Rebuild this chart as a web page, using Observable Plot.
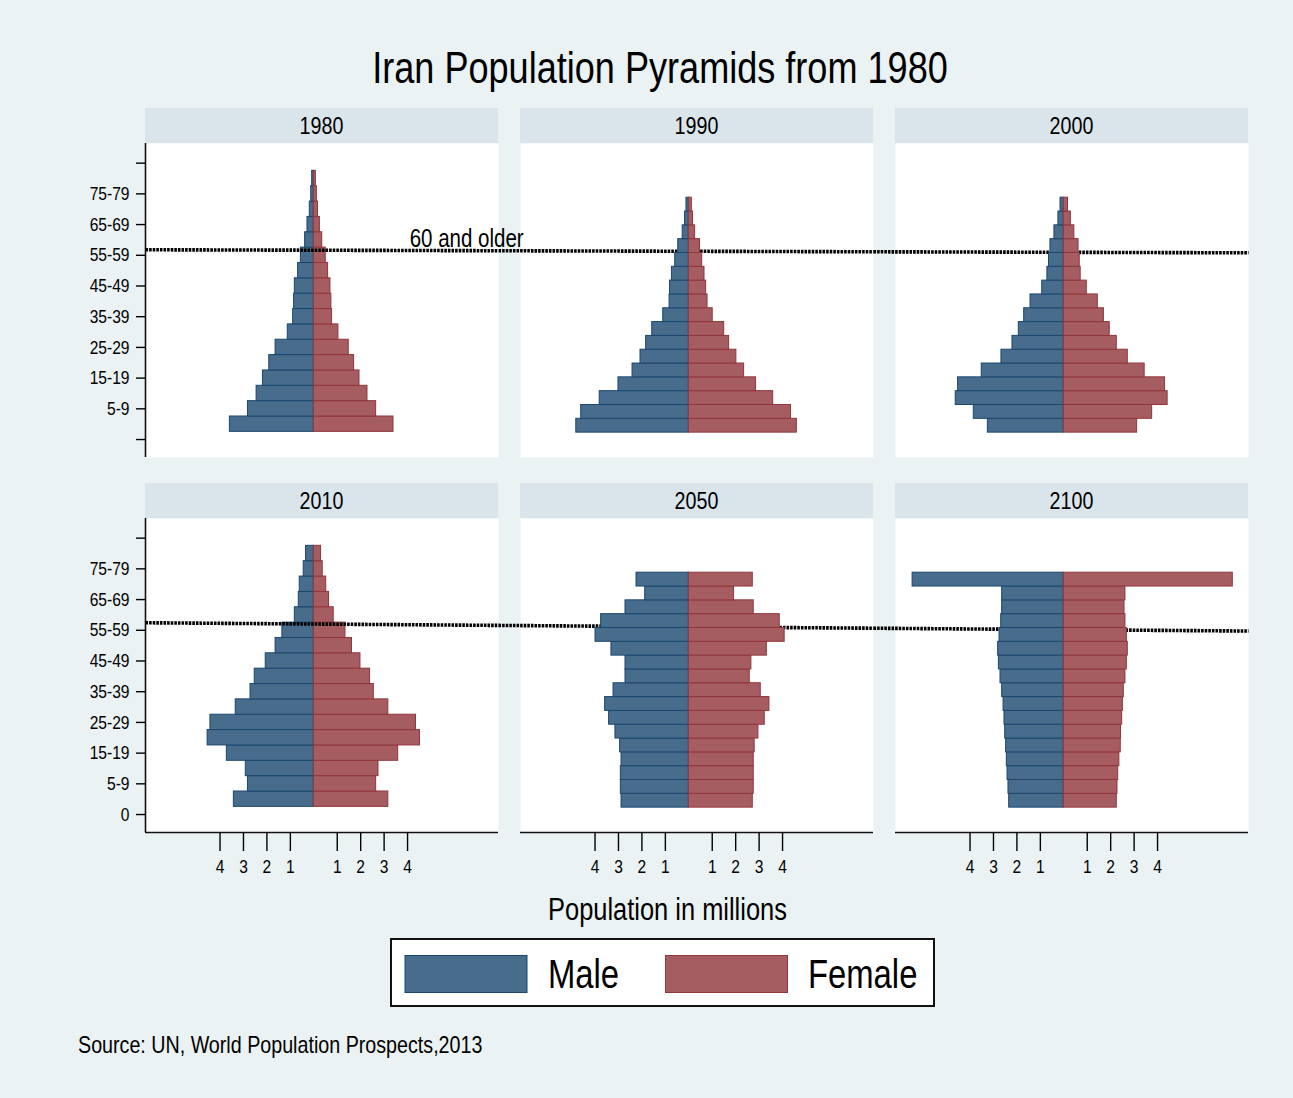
<!DOCTYPE html>
<html><head><meta charset="utf-8">
<script src="https://cdn.jsdelivr.net/npm/d3@7"></script>
<script src="https://cdn.jsdelivr.net/npm/@observablehq/plot@0.6"></script>
<style>
html,body{margin:0;padding:0;background:#eaf2f3;}
#fig{position:relative;width:1293px;height:1098px;background:#eaf2f3;overflow:hidden;
 font-family:"Liberation Sans",Arial,sans-serif;color:#000;}
</style></head><body><div id="fig"></div>
<script>
// ---- data ----
const years = [1980, 1990, 2000, 2010, 2050, 2100];
const ageGroups = ["0-4","5-9","10-14","15-19","20-24","25-29","30-34","35-39","40-44","45-49",
  "50-54","55-59","60-64","65-69","70-74","75-79","80+"];
// millions, ordered from 0-4 up to 80+
const male1980   = [3.58,2.81,2.44,2.17,1.90,1.63,1.11,0.88,0.84,0.81,0.67,0.55,0.37,0.27,0.17,0.11,0.07];
const female1980 = [3.40,2.66,2.29,1.95,1.72,1.49,1.05,0.78,0.75,0.71,0.61,0.51,0.36,0.26,0.18,0.13,0.09];
const male1990   = [4.80,4.59,3.80,3.00,2.40,2.06,1.82,1.56,1.09,0.82,0.80,0.72,0.58,0.45,0.26,0.16,0.10];
const female1990 = [4.61,4.36,3.60,2.87,2.36,2.03,1.72,1.51,1.02,0.80,0.74,0.67,0.57,0.48,0.27,0.18,0.13];
const male2000   = [3.24,3.84,4.61,4.51,3.50,2.66,2.19,1.92,1.69,1.42,0.92,0.70,0.63,0.57,0.40,0.23,0.14];
const female2000 = [3.13,3.77,4.43,4.32,3.45,2.73,2.26,1.96,1.71,1.45,0.98,0.72,0.68,0.63,0.45,0.30,0.18];
const male2010   = [3.41,2.81,2.90,3.71,4.53,4.41,3.33,2.70,2.52,2.05,1.63,1.34,0.81,0.64,0.60,0.43,0.33];
const female2010 = [3.18,2.66,2.76,3.60,4.53,4.36,3.18,2.56,2.40,1.99,1.63,1.35,0.85,0.65,0.53,0.38,0.31];
const male2050   = [2.87,2.90,2.90,2.87,2.93,3.13,3.40,3.57,3.21,2.70,2.70,3.30,3.98,3.74,2.70,1.86,2.23];
const female2050 = [2.73,2.77,2.77,2.77,2.81,2.97,3.24,3.44,3.07,2.60,2.67,3.33,4.09,3.88,2.77,1.93,2.73];
const male2100   = [2.33,2.36,2.40,2.43,2.46,2.50,2.53,2.57,2.63,2.70,2.77,2.80,2.74,2.67,2.63,2.63,6.45];
const female2100 = [2.26,2.29,2.32,2.37,2.43,2.44,2.49,2.52,2.56,2.63,2.69,2.73,2.69,2.63,2.59,2.63,7.21];
const maleData = [male1980, male1990, male2000, male2010, male2050, male2100];
const femaleData = [female1980, female1990, female2000, female2010, female2050, female2100];
const yTickValues = [0,2,4,6,8,10,12,14,16,18];
const yTickLabels = ["0","5-9","15-19","25-29","35-39","45-49","55-59","65-69","75-79",""];
const xTickValues = [-4,-3,-2,-1,1,2,3,4];
const seriesNames = ["Male","Female"];

// ---- styles / layout ----
const maleFill = "#486c8c", maleStroke = "#1a476f";
const femaleFill = "#a65d62", femaleStroke = "#90353b";
const FONT = '"Liberation Sans",Arial,sans-serif';
const NARROW = 0.82; // horizontal compression to mimic a narrow face
const frameW = 353, frameH = 314, gap = 22;
const colLeft = [145, 520, 895];
const rowTop = [143, 518];
const xDomain = [-7.18, 7.88];
const yDomainBase = [-1.17, 19.28];
const bandScale = [1, 0.9, 0.9, 1, 0.9, 0.9];
const cutLineTop = [12.36, 12.16], cutLineBottom = [12.49, 11.95];
const X0 = 145, X1 = 1248;
const pxPerM = frameW / (xDomain[1] - xDomain[0]);

const fig = document.getElementById("fig");

// background: texts, strips, legend
const bg = d3.select(fig).append("svg").attr("width",1293).attr("height",1098)
  .style("position","absolute").style("left",0).style("top",0).style("font-family",FONT);
bg.append("text").attr("x",660).attr("y",83).attr("text-anchor","middle").attr("font-size",44)
  .text("Iran Population Pyramids from 1980");
bg.append("text").attr("x",667.5).attr("y",920).attr("text-anchor","middle").attr("font-size",31)
  .text("Population in millions");
bg.append("text").attr("x",78).attr("y",1053).attr("font-size",24)
  .text("Source: UN, World Population Prospects,2013");
years.forEach((yr, i) => {
  const r = Math.floor(i / 3), c = i % 3;
  bg.append("rect").attr("x", colLeft[c]).attr("y", rowTop[r] - 35).attr("width", frameW).attr("height", 35)
    .attr("fill", "#d9e5eb");
  bg.append("text").attr("x", colLeft[c] + frameW / 2).attr("y", rowTop[r] - 35 + 26)
    .attr("text-anchor", "middle").attr("font-size", 24).text(yr);
});
const lg = bg.append("g");
lg.append("rect").attr("x",391).attr("y",939).attr("width",543).attr("height",67)
  .attr("fill","#fff").attr("stroke","#111").attr("stroke-width",2);
[[maleFill, maleStroke, 405, 548], [femaleFill, femaleStroke, 665.5, 808]].forEach(([fl, st, sx, tx], j) => {
  lg.append("rect").attr("x", sx).attr("y", 955.5).attr("width", 122).attr("height", 37)
    .attr("fill", fl).attr("stroke", st).attr("stroke-width", 1);
  lg.append("text").attr("x", tx).attr("y", 988).attr("font-size", 40).text(seriesNames[j]);
});

years.forEach((yr, i) => {
  const r = Math.floor(i / 3), c = i % 3;
  const f = bandScale[i];
  const ydom = [yDomainBase[0] / f, yDomainBase[1] / f];
  const rows = ageGroups.map((g, k) => ({age: g, k: k + 1, male: maleData[i][k], female: femaleData[i][k]}));
  const mL = c === 0 ? 85 : gap;
  const mB = r === 1 ? 50 : 0;
  const leftPx = c === 0 ? X0 : colLeft[c] - gap;
  const rightPx = colLeft[c] + frameW;
  const cut = r === 0 ? cutLineTop : cutLineBottom;
  const lerp = px => cut[0] + (cut[1] - cut[0]) * (px - X0) / (X1 - X0);
  const linePts = [
    {x: xDomain[0] - (colLeft[c] - leftPx) / pxPerM, y: lerp(leftPx) / f},
    {x: xDomain[1], y: lerp(rightPx) / f}
  ];
  const cutMark = Plot.line(linePts, {x: "x", y: "y", stroke: "#000", strokeWidth: 3.6,
    strokeDasharray: "2.6,1", strokeLinecap: "butt", strokeOpacity: 1});
  const marks = [Plot.frame({fill: "white", stroke: "none"})];
  if (c > 0) marks.push(cutMark);
  marks.push(Plot.rect(rows, {x1: d => -d.male, x2: () => 0, y1: d => d.k - 0.5, y2: d => d.k + 0.5,
    fill: maleFill, stroke: maleStroke, strokeWidth: 1}));
  marks.push(Plot.rect(rows, {x1: () => 0, x2: d => d.female, y1: d => d.k - 0.5, y2: d => d.k + 0.5,
    fill: femaleFill, stroke: femaleStroke, strokeWidth: 1}));
  if (c === 0) {
    marks.push(cutMark);
    marks.push(Plot.ruleX([xDomain[0]], {stroke: "#111", strokeWidth: 1.6}));
    marks.push(Plot.axisY({ticks: yTickValues, anchor: "left", label: null, tickSize: 9, tickPadding: 7,
      strokeWidth: 1.4, fontSize: 19,
      tickFormat: d => (r === 0 && d === 0) ? "" : yTickLabels[yTickValues.indexOf(d)]}));
  }
  if (r === 1) {
    marks.push(Plot.ruleY([ydom[0]], {stroke: "#111", strokeWidth: 1.6}));
    marks.push(Plot.axisX({ticks: xTickValues, anchor: "bottom", label: null, tickSize: 19, tickPadding: 8,
      strokeWidth: 1.4, fontSize: 19, tickFormat: d => Math.abs(d)}));
  }
  if (i === 0) {
    marks.push(Plot.text(["60 and older"], {x: () => 4.09, y: () => 12.57, text: d => d,
      textAnchor: "start", lineAnchor: "bottom", fontSize: 25, fill: "#000"}));
  }
  const svg = Plot.plot({
    width: mL + frameW, height: frameH + mB,
    marginLeft: mL, marginRight: 0, marginTop: 0, marginBottom: mB,
    x: {domain: xDomain, axis: null},
    y: {domain: ydom, axis: null},
    style: {fontFamily: FONT, fontSize: "19px", color: "#000", background: "transparent", overflow: "visible"},
    marks
  });
  svg.style.position = "absolute";
  svg.style.left = (colLeft[c] - mL) + "px";
  svg.style.top = rowTop[r] + "px";
  svg.style.maxWidth = "none";
  svg.style.zIndex = (i === 0) ? 3 : 1;
  fig.appendChild(svg);
});

// compress all text horizontally (narrow face look)
function narrow() {
  fig.querySelectorAll("svg text").forEach(t => {
    if (!t.textContent.trim()) return;
    t.removeAttribute("textLength");
    const L = t.getComputedTextLength();
    if (L > 0) {
      t.setAttribute("textLength", (L * NARROW).toFixed(2));
      t.setAttribute("lengthAdjust", "spacingAndGlyphs");
    }
  });
}
narrow();
if (document.fonts && document.fonts.ready) document.fonts.ready.then(narrow);
</script></body></html>
